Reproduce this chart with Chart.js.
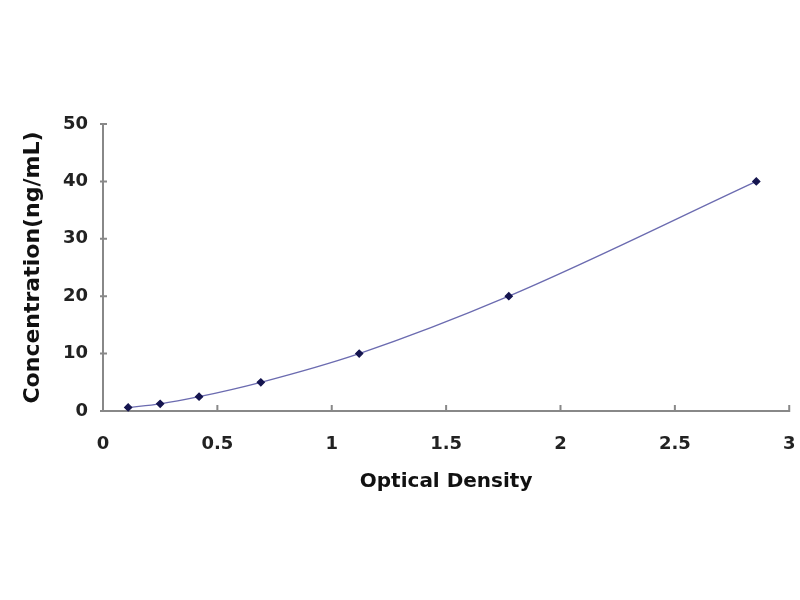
<!DOCTYPE html>
<html>
<head>
<meta charset="utf-8">
<script src="https://cdn.jsdelivr.net/npm/chart.js@4/dist/chart.umd.min.js"></script>
<style>
  html, body { margin: 0; padding: 0; background: #fff; }
  #wrap { width: 800px; height: 600px; }
</style>
</head>
<body>
<div id="wrap"><canvas id="curve" width="800" height="600"></canvas></div>
<script>
// standard curve: optical density vs concentration
const opticalDensity = [0.11, 0.25, 0.42, 0.69, 1.12, 1.774, 2.856];
const concentration = [0.625, 1.25, 2.5, 5, 10, 20, 40];
const xTicks = [0, 0.5, 1, 1.5, 2, 2.5, 3];
const yTicks = [0, 10, 20, 30, 40, 50];

const points = opticalDensity.map((x, i) => ({ x: x, y: concentration[i] }));

// small tick marks that sit on the inside of the axis lines
const innerTicks = {
  id: 'innerTicks',
  afterDraw(chart) {
    const c = chart.ctx;
    const xs = chart.scales.x, ys = chart.scales.y;
    const area = chart.chartArea;
    c.save();
    c.strokeStyle = '#888';
    c.lineWidth = 2;
    c.beginPath();
    xTicks.forEach(v => {
      const px = xs.getPixelForValue(v);
      c.moveTo(px, area.bottom + 1);
      c.lineTo(px, area.bottom - 6);
    });
    yTicks.forEach(v => {
      const py = ys.getPixelForValue(v);
      c.moveTo(area.left - 3, py);
      c.lineTo(area.left + 4, py);
    });
    c.stroke();
    c.restore();
  }
};

const ctx = document.getElementById('curve').getContext('2d');
new Chart(ctx, {
  type: 'scatter',
  data: {
    datasets: [{
      data: points,
      showLine: true,
      cubicInterpolationMode: 'monotone',
      borderColor: '#6b6bb0',
      borderWidth: 1.3,
      pointStyle: 'rectRot',
      pointRadius: 3.5,
      pointBackgroundColor: '#15154f',
      pointBorderColor: '#15154f',
      clip: false
    }]
  },
  plugins: [innerTicks],
  options: {
    responsive: false,
    animation: false,
    layout: { padding: { top: 124, right: 10, bottom: 104, left: 0 } },
    plugins: { legend: { display: false }, tooltip: { enabled: false } },
    scales: {
      x: {
        type: 'linear',
        min: 0,
        max: 3,
        afterBuildTicks: s => { s.ticks = xTicks.map(v => ({ value: v })); },
        afterFit: s => { s.height = 85; },
        grid: { drawOnChartArea: false, tickLength: 18.5, tickColor: 'rgba(0,0,0,0)' },
        border: { color: '#888', width: 2 },
        ticks: {
          padding: 4.5,
          color: '#222',
          callback: v => String(v),
          font: { family: 'DejaVu Sans', size: 18, weight: 'bold' }
        },
        title: {
          display: true,
          text: 'Optical Density',
          color: '#111',
          padding: { top: 0, bottom: 2 },
          font: { family: 'DejaVu Sans', size: 20, weight: 'bold' }
        }
      },
      y: {
        type: 'linear',
        min: 0,
        max: 50,
        afterBuildTicks: s => { s.ticks = yTicks.map(v => ({ value: v })); },
        afterFit: s => { s.width = 103; },
        grid: { drawOnChartArea: false, tickLength: 5, tickColor: 'rgba(0,0,0,0)' },
        border: { color: '#888', width: 2 },
        ticks: {
          padding: 10,
          color: '#222',
          callback: v => String(v),
          font: { family: 'DejaVu Sans', size: 18, weight: 'bold' }
        },
        title: {
          display: true,
          text: 'Concentration(ng/mL)',
          color: '#111',
          padding: { top: 20, bottom: 0 },
          font: { family: 'DejaVu Sans', size: 22, weight: 'bold' }
        }
      }
    }
  }
});
</script>
</body>
</html>
